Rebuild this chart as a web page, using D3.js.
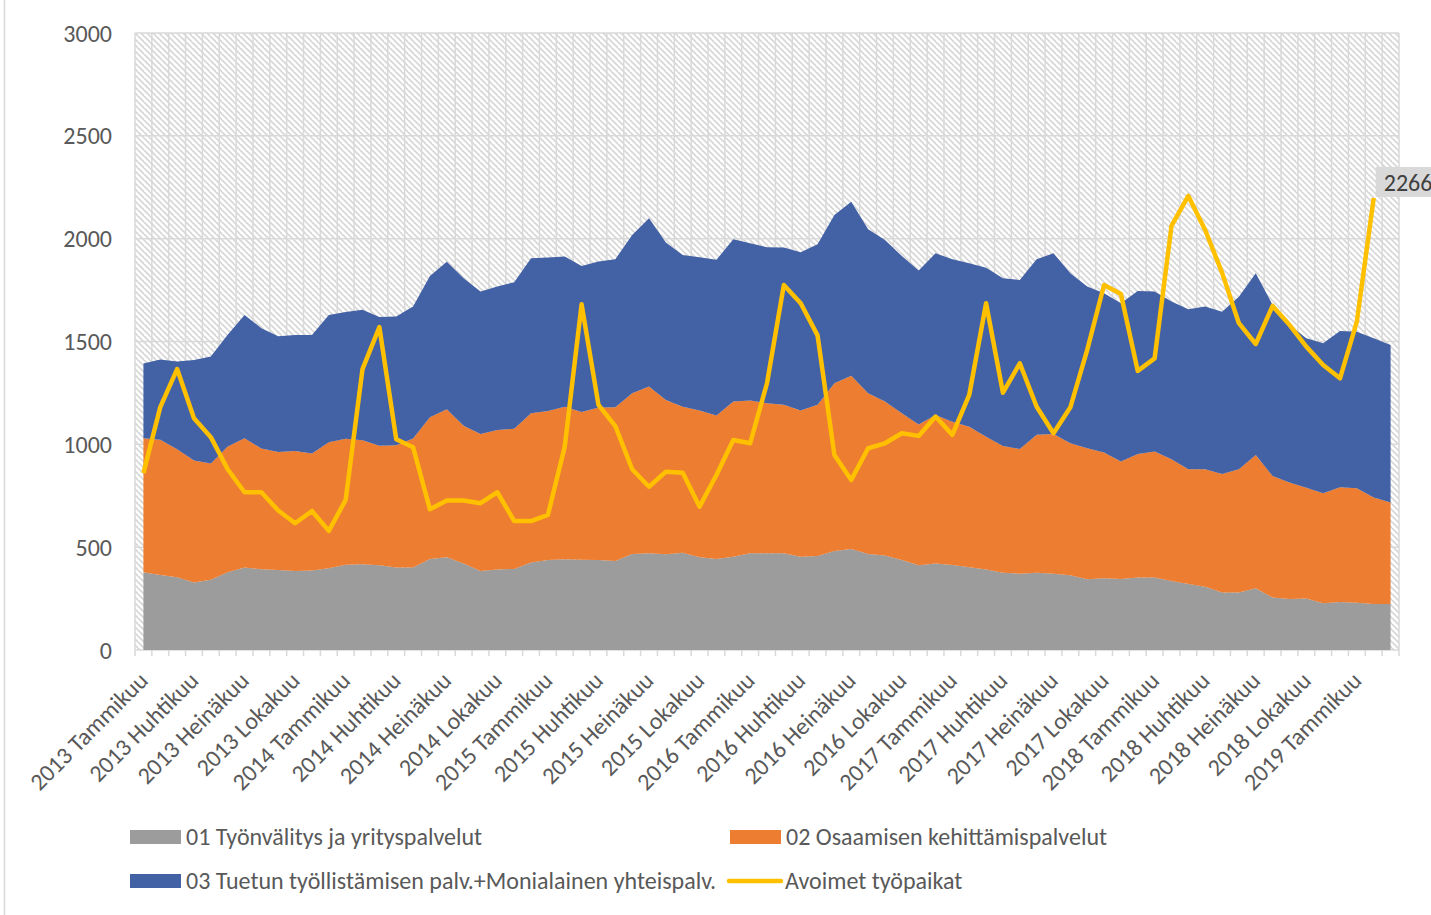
<!DOCTYPE html>
<html>
<head>
<meta charset="utf-8">
<script src="https://d3js.org/d3.v7.min.js"></script>
<style>
  html, body { margin: 0; padding: 0; background: #fff; }
  svg { display: block; font-family: Carlito, Calibri, Lato, sans-serif; }
</style>
</head>
<body>
<svg id="chart" width="1431" height="915"></svg>
<script>
// ── Data ────────────────────────────────────────────
const monthNames = ["Tammikuu", "Helmikuu", "Maaliskuu", "Huhtikuu", "Toukokuu", "Kesäkuu",
    "Heinäkuu", "Elokuu", "Syyskuu", "Lokakuu", "Marraskuu", "Joulukuu"];
const firstYear = 2013;
const monthCount = 75; // 2013 Tammikuu .. 2019 Maaliskuu
const categories = d3.range(monthCount).map(i =>
    `${firstYear + Math.floor(i / 12)} ${monthNames[i % 12]}`);

const seriesNames = [
    "01 Työnvälitys ja yrityspalvelut",
    "02 Osaamisen kehittämispalvelut",
    "03 Tuetun työllistämisen palv.+Monialainen yhteispalv.",
    "Avoimet työpaikat"
];

// 01 Työnvälitys ja yrityspalvelut
const tyonvalitys = [378, 365, 354, 328, 341, 378, 401, 393, 389, 384, 386, 397,
    415, 417, 412, 401, 401, 443, 451, 421, 384, 392, 394, 426,
    438, 441, 439, 438, 433, 467, 470, 465, 473, 451, 443, 454,
    470, 470, 470, 454, 457, 481, 491, 467, 460, 438, 412, 421,
    413, 402, 392, 376, 371, 376, 371, 363, 344, 349, 345, 353,
    353, 336, 321, 308, 279, 279, 300, 255, 248, 251, 227, 233,
    230, 224, 224];

// 02 Osaamisen kehittämispalvelut
const osaaminen = [652, 657, 622, 593, 566, 611, 629, 587, 574, 583, 569, 613,
    612, 603, 581, 595, 627, 689, 720, 669, 666, 678, 682, 725,
    724, 742, 718, 741, 747, 781, 811, 751, 710, 713, 697, 754,
    743, 730, 723, 710, 735, 816, 842, 781, 748, 713, 684, 722,
    697, 684, 645, 616, 606, 670, 679, 642, 637, 611, 571, 600,
    612, 591, 558, 571, 577, 600, 648, 591, 566, 538, 535, 558,
    556, 518, 493];

// 03 Tuetun työllistämisen palv.+Monialainen yhteispalv.
const tuettu = [363, 391, 427, 489, 520, 544, 599, 585, 562, 564, 576, 619,
    617, 634, 626, 625, 642, 687, 717, 718, 693, 697, 712, 754,
    746, 730, 710, 710, 720, 770, 818, 765, 738, 746, 757, 789,
    765, 758, 764, 770, 781, 818, 847, 798, 786, 765, 749, 786,
    790, 795, 822, 815, 822, 854, 879, 827, 786, 775, 770, 793,
    778, 767, 778, 791, 789, 839, 884, 832, 766, 727, 729, 760,
    762, 774, 766];

// Avoimet työpaikat (ends one month earlier)
const avoimet = [860, 1181, 1366, 1127, 1035, 879, 767, 767, 678, 616, 676, 579,
    730, 1366, 1570, 1025, 986, 684, 727, 727, 714, 767, 627, 627,
    657, 989, 1681, 1192, 1089, 879, 794, 867, 862, 697, 851, 1021,
    1005, 1297, 1775, 1686, 1530, 948, 827, 981, 1005, 1054, 1041, 1135,
    1046, 1240, 1686, 1251, 1394, 1183, 1054, 1180, 1459, 1775, 1731, 1357,
    1418, 2062, 2208, 2042, 1835, 1589, 1488, 1673, 1581, 1475, 1386, 1321,
    1597, 2198];
const lastLabel = "2266";

const yTicks = [0, 500, 1000, 1500, 2000, 2500, 3000];
const colors = ["#9c9c9c", "#ec7d31", "#4361a5", "#ffc000"];

// ── Layout ──────────────────────────────────────────
const svg = d3.select("#chart");
const plot = { left: 135, right: 1399, top: 33, bottom: 650 };
const gridColor = "#d9d9d9";
const textColor = "#595959";

const x = d3.scaleBand()
    .domain(d3.range(monthCount))
    .range([plot.left, plot.right])
    .padding(0);
const cx = i => x(i) + x.bandwidth() / 2;

const y = d3.scaleLinear()
    .domain([0, 3000])
    .range([plot.bottom, plot.top]);

// chart border (left edge visible)
svg.append("line")
    .attr("x1", 4.5).attr("x2", 4.5)
    .attr("y1", 0).attr("y2", 915)
    .attr("stroke", gridColor).attr("stroke-width", 1.5);

// hatch pattern
const defs = svg.append("defs");
const pat = defs.append("pattern")
    .attr("id", "hatch")
    .attr("patternUnits", "userSpaceOnUse")
    .attr("width", 6).attr("height", 6);
pat.append("rect").attr("width", 6).attr("height", 6).attr("fill", "#fff");
pat.append("path")
    .attr("d", "M0,0L6,6M-3,3L0,6M3,-3L9,3")
    .attr("stroke", "#d6d6d6")
    .attr("stroke-width", 1.6);

svg.append("rect")
    .attr("x", plot.left).attr("y", plot.top)
    .attr("width", plot.right - plot.left)
    .attr("height", plot.bottom - plot.top)
    .attr("fill", "url(#hatch)");

// vertical gridlines at category boundaries
const bounds = d3.range(monthCount + 1).map(i => plot.left + i * x.bandwidth());
svg.append("g").selectAll("line")
    .data(bounds)
    .join("line")
    .attr("x1", d => d).attr("x2", d => d)
    .attr("y1", plot.top).attr("y2", plot.bottom + 6)
    .attr("stroke", gridColor).attr("stroke-width", 1.5);

// horizontal gridlines
svg.append("g").selectAll("line")
    .data(yTicks)
    .join("line")
    .attr("x1", plot.left).attr("x2", plot.right)
    .attr("y1", d => y(d)).attr("y2", d => y(d))
    .attr("stroke", gridColor).attr("stroke-width", 1.5);

// ── Stacked areas ───────────────────────────────────
const table = categories.map((c, i) => ({
    i: i, s1: tyonvalitys[i], s2: osaaminen[i], s3: tuettu[i]
}));
const stacked = d3.stack().keys(["s1", "s2", "s3"])(table);

const area = d3.area()
    .x(d => cx(d.data.i))
    .y0(d => y(d[0]))
    .y1(d => y(d[1]));

svg.append("g").selectAll("path")
    .data(stacked)
    .join("path")
    .attr("d", area)
    .attr("fill", (d, k) => colors[k]);

// ── Line ────────────────────────────────────────────
const line = d3.line()
    .x((d, i) => cx(i))
    .y(d => y(d));

svg.append("path")
    .datum(avoimet)
    .attr("d", line)
    .attr("fill", "none")
    .attr("stroke", colors[3])
    .attr("stroke-width", 4.5)
    .attr("stroke-linejoin", "round");

// data label of last point
const lastI = avoimet.length - 1;
const lbl = svg.append("g")
    .attr("transform", `translate(${cx(lastI) + 2},${y(avoimet[lastI]) - 31})`);
lbl.append("rect")
    .attr("width", 70).attr("height", 30)
    .attr("fill", "#d9d9d9");
lbl.append("text")
    .attr("x", 8).attr("y", 24)
    .attr("font-size", 24)
    .attr("fill", "#404040")
    .text(lastLabel);

// ── Axes ────────────────────────────────────────────
svg.append("g").selectAll("text")
    .data(yTicks)
    .join("text")
    .attr("x", 112)
    .attr("y", d => y(d))
    .attr("dy", "0.36em")
    .attr("text-anchor", "end")
    .attr("font-size", 24)
    .attr("fill", textColor)
    .text(d => d);

const labelIdx = d3.range(0, monthCount, 3);
svg.append("g").selectAll("text")
    .data(labelIdx)
    .join("text")
    .attr("transform", i => `translate(${cx(i) + 6},${plot.bottom + 32}) rotate(-45)`)
    .attr("text-anchor", "end")
    .attr("font-size", 24)
    .attr("fill", textColor)
    .text(i => categories[i]);

// ── Legend ──────────────────────────────────────────
const legendItems = [
    { name: seriesNames[0], color: colors[0], type: "rect", x: 130, y: 837 },
    { name: seriesNames[1], color: colors[1], type: "rect", x: 730, y: 837 },
    { name: seriesNames[2], color: colors[2], type: "rect", x: 130, y: 881 },
    { name: seriesNames[3], color: colors[3], type: "line", x: 729, y: 881 }
];
const leg = svg.append("g").selectAll("g")
    .data(legendItems)
    .join("g")
    .attr("transform", d => `translate(${d.x},${d.y})`);
leg.filter(d => d.type === "rect").append("rect")
    .attr("x", 0).attr("y", -7)
    .attr("width", 51).attr("height", 14)
    .attr("fill", d => d.color);
leg.filter(d => d.type === "line").append("line")
    .attr("x1", 0).attr("x2", 52)
    .attr("y1", 0).attr("y2", 0)
    .attr("stroke", d => d.color)
    .attr("stroke-width", 4.5)
    .attr("stroke-linecap", "round");
leg.append("text")
    .attr("x", 56)
    .attr("dy", "0.35em")
    .attr("font-size", 24)
    .attr("fill", textColor)
    .text(d => d.name);
</script>
</body>
</html>
